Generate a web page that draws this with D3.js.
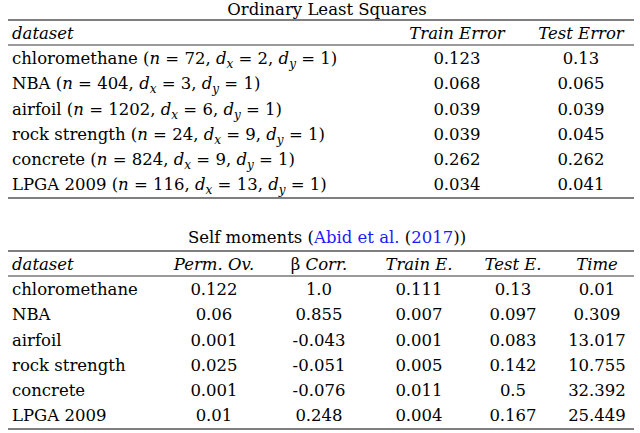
<!DOCTYPE html>
<html><head><meta charset="utf-8">
<script src="https://cdn.jsdelivr.net/npm/d3@7"></script>
<style>body{margin:0;background:#fff}text{font-family:"DejaVu Serif",serif;font-size:16.5px;fill:#000}</style>
</head><body><svg id="c" width="640" height="433"></svg>
<script>
const olsNames=["chloromethane","NBA","airfoil","rock strength","concrete","LPGA 2009"];
const olsN=[72,404,1202,24,824,116];
const olsDx=[2,3,6,9,9,13];
const olsTrain=["0.123","0.068","0.039","0.039","0.262","0.034"];
const olsTest=["0.13","0.065","0.039","0.045","0.262","0.041"];
const smPerm=["0.122","0.06","0.001","0.025","0.001","0.01"];
const smBeta=["1.0","0.855","-0.043","-0.051","-0.076","0.248"];
const smTrain=["0.111","0.007","0.001","0.005","0.011","0.004"];
const smTest=["0.13","0.097","0.083","0.142","0.5","0.167"];
const smTime=["0.01","0.309","13.017","10.755","32.392","25.449"];

const svg=d3.select("#c");
const L=8,R=634;
function rule(y,w){svg.append("line").attr("x1",L).attr("x2",R).attr("y1",y).attr("y2",y).attr("stroke","#000").attr("stroke-width",w);}

svg.append("text").attr("x",327).attr("y",15).attr("text-anchor","middle").text("Ordinary Least Squares");
rule(20,1.2);
const y1=d3.scalePoint().domain(d3.range(7)).range([39,190]);
svg.append("text").attr("x",12).attr("y",y1(0)).attr("font-style","italic").text("dataset");
svg.append("text").attr("x",457).attr("y",y1(0)).attr("text-anchor","middle").attr("font-style","italic").text("Train Error");
svg.append("text").attr("x",581).attr("y",y1(0)).attr("text-anchor","middle").attr("font-style","italic").text("Test Error");
rule(45,0.8);
olsNames.forEach((n,i)=>{
  const t=svg.append("text").attr("x",12).attr("y",y1(i+1));
  t.append("tspan").text(n+" (");
  t.append("tspan").attr("font-style","italic").text("n");
  t.append("tspan").text(" = "+olsN[i]+", ");
  t.append("tspan").attr("font-style","italic").text("d");
  t.append("tspan").attr("font-style","italic").attr("font-size","12px").attr("dy",4).text("x");
  t.append("tspan").attr("dy",-4).text(" = "+olsDx[i]+", ");
  t.append("tspan").attr("font-style","italic").text("d");
  t.append("tspan").attr("font-style","italic").attr("font-size","12px").attr("dy",4).text("y");
  t.append("tspan").attr("dy",-4).text(" = 1)");
  svg.append("text").attr("x",457).attr("y",y1(i+1)).attr("text-anchor","middle").text(olsTrain[i]);
  svg.append("text").attr("x",581).attr("y",y1(i+1)).attr("text-anchor","middle").text(olsTest[i]);
});
rule(198,1.2);

const tt=svg.append("text").attr("x",327).attr("y",243).attr("text-anchor","middle");
tt.append("tspan").text("Self moments (");
tt.append("tspan").style("fill","#1a1aff").text("Abid et al.");
tt.append("tspan").text(" (");
tt.append("tspan").style("fill","#1a1aff").text("2017");
tt.append("tspan").text("))");
rule(251,1.2);
const y2=d3.scalePoint().domain(d3.range(7)).range([270,421]);
const cols=[214,319,419,513,597];
const heads=["Perm. Ov.","\u03b2 Corr.","Train E.","Test E.","Time"];
svg.append("text").attr("x",12).attr("y",y2(0)).attr("font-style","italic").text("dataset");
heads.forEach((h,j)=>{
  const t=svg.append("text").attr("x",cols[j]).attr("y",y2(0)).attr("text-anchor","middle");
  if(j==1){t.append("tspan").text("\u03b2 ");t.append("tspan").attr("font-style","italic").text("Corr.");}
  else t.attr("font-style","italic").text(h);
});
rule(276,0.8);
const sm=[smPerm,smBeta,smTrain,smTest,smTime];
olsNames.forEach((n,i)=>{
  svg.append("text").attr("x",12).attr("y",y2(i+1)).text(n);
  sm.forEach((arr,j)=>svg.append("text").attr("x",cols[j]).attr("y",y2(i+1)).attr("text-anchor","middle").text(arr[i]));
});
rule(429,1.2);
</script></body></html>
